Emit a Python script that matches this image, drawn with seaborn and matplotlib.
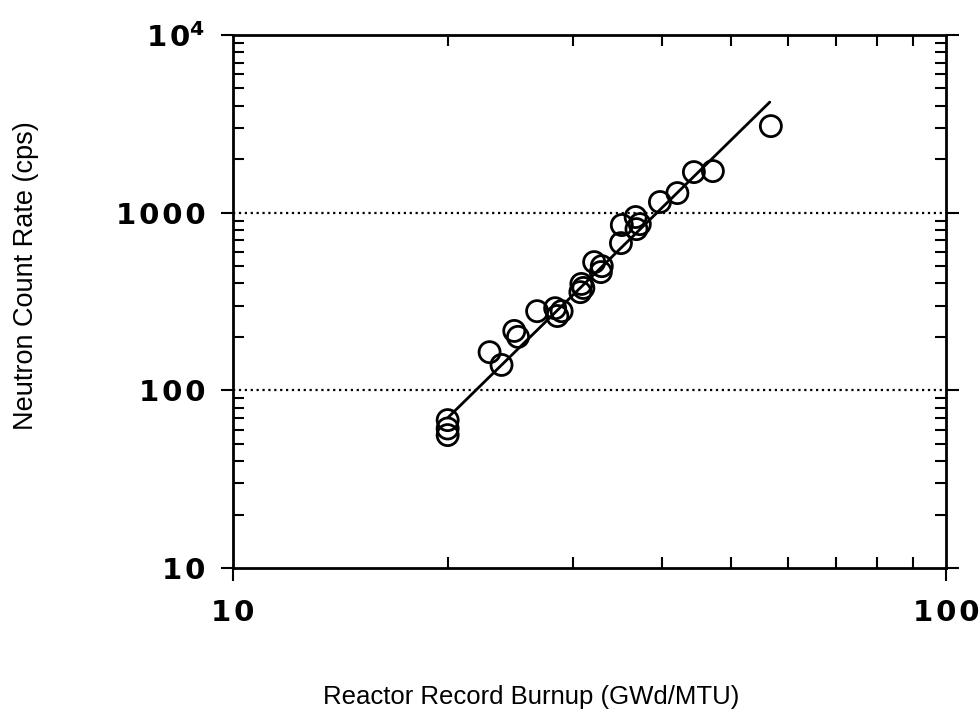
import numpy as np
import pandas as pd
import matplotlib
matplotlib.use('Agg')
import matplotlib.pyplot as plt
from matplotlib.ticker import NullFormatter
import seaborn as sns

# Data
burnup = [20.0, 20.0, 20.0, 22.9, 23.8, 24.8, 25.1, 26.7, 28.3, 28.5,
          28.9, 30.7, 30.8, 31.0, 32.1, 32.9, 32.8, 35.0, 35.1, 36.7,
          36.8, 37.2, 39.7, 42.0, 44.3, 47.1, 56.8]
count_rate = [68, 61, 56, 164, 139, 216, 200, 279, 290, 262,
              279, 357, 397, 377, 527, 500, 463, 674, 852, 945,
              808, 862, 1148, 1289, 1692, 1714, 3070]

# fitted power-law line, end points
fit_x = [20.0, 56.6]
fit_y = [70, 4190]

sp = '\u200a'
y_ticks = [10, 100, 1000, 10000]
y_labels = ['1' + sp + '0', '1' + sp + '0' + sp + '0', '1' + sp + '0' + sp + '0' + sp + '0',
            '1' + sp + r'0$^{\mathbf{4}}$']
x_ticks = [10, 100]
x_labels = ['1' + sp + '0', '1' + sp + '0' + sp + '0']

df = pd.DataFrame({'Burnup': burnup, 'Rate': count_rate})
df_fit = pd.DataFrame({'Burnup': fit_x, 'Rate': fit_y})

sns.set_style('white')
plt.rcParams['font.family'] = ['Liberation Sans', 'DejaVu Sans']
plt.rcParams['mathtext.fontset'] = 'dejavusans'
plt.rcParams['text.color'] = 'black'
plt.rcParams['xtick.color'] = 'black'
plt.rcParams['ytick.color'] = 'black'

fig = plt.figure(figsize=(9.8, 7.26), dpi=100)
ax = fig.add_axes([0.2378, 0.2176, 0.7275, 0.7342])

sns.lineplot(data=df_fit, x='Burnup', y='Rate', color='black', linewidth=2, ax=ax)
sns.scatterplot(data=df, x='Burnup', y='Rate', s=230, facecolor='none',
                edgecolor='black', linewidth=2, marker='o', ax=ax, zorder=3)

ax.set_xscale('log')
ax.set_yscale('log')
ax.set_xlim(10, 100)
ax.set_ylim(10, 10000)

ax.set_yticks(y_ticks)
ax.set_yticklabels(y_labels, fontsize=21, fontweight='bold', family='DejaVu Sans')
ax.set_xticks(x_ticks)
ax.set_xticklabels(x_labels, fontsize=21, fontweight='bold', family='DejaVu Sans')
ax.xaxis.set_minor_formatter(NullFormatter())
ax.yaxis.set_minor_formatter(NullFormatter())

ax.tick_params(which='major', direction='out', length=9, width=1.5,
               left=True, bottom=True, right=True, top=False)
ax.tick_params(which='minor', direction='in', length=8, width=1.5,
               left=True, bottom=True, right=True, top=True)
ax.tick_params(axis='x', which='major', pad=13)
ax.tick_params(axis='y', which='major', pad=11)

# dotted horizontal grid at 100 and 1000
for yv in [100, 1000]:
    ax.axhline(yv, color='black', linestyle=':', linewidth=1.6, zorder=1)

for s in ax.spines.values():
    s.set_color('black')
    s.set_linewidth(2)

ax.set_xlabel('')
ax.set_ylabel('')
fig.text(0.542, 0.04, 'Reactor Record Burnup (GWd/MTU)', fontsize=18.5,
         ha='center', va='center', color='black')
fig.text(0.027, 0.621, 'Neutron Count Rate (cps)', fontsize=19.5,
         ha='center', va='center', rotation=90, color='black')

fig.savefig('out.png', dpi=100)
